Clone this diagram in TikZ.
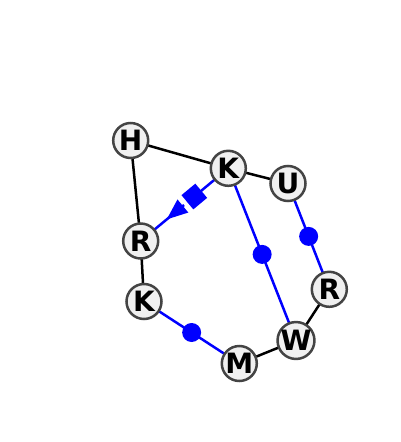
\documentclass[tikz,border=0pt]{standalone}
\usepackage{fontspec}
\setmainfont{DejaVu Sans}
\usetikzlibrary{calc}
\definecolor{nodefill}{HTML}{F0F0F0}
\definecolor{nodeborder}{HTML}{444444}
\tikzset{
  vert/.style={circle, draw=nodeborder, fill=nodefill, line width=2.5pt, minimum size=35pt, inner sep=0pt, font=\fontsize{28}{28}\selectfont\bfseries},
  blk/.style={draw=black, line width=2.5pt},
  blu/.style={draw=blue, line width=2.5pt},
  bdot/.style={circle, fill=blue, minimum size=19pt, inner sep=0pt},
}
\begin{document}
\begin{tikzpicture}[x=1pt, y=-1pt]
\useasboundingbox (0,0) rectangle (400,442);
\coordinate (pH) at (130.7,140.5);
\coordinate (pK1) at (228.3,168.3);
\coordinate (pU) at (288,183.5);
\coordinate (pR1) at (140.7,241);
\coordinate (pK2) at (144,301.5);
\coordinate (pM) at (239.3,363.5);
\coordinate (pW) at (296,340.5);
\coordinate (pR2) at (329.3,289.3);
% edges
\draw[blk] (pH) -- (pK1);
\draw[blk] (pH) -- (pR1);
\draw[blk] (pK1) -- (pU);
\draw[blk] (pR1) -- (pK2);
\draw[blk] (pM) -- (pW);
\draw[blk] (pW) -- (pR2);
\draw[blu] (pK1) -- (pW) node[midway, bdot] (d1) {};
\draw[blu] (pU) -- (pR2) node[midway, bdot] (d2) {};
\draw[blu] (pK2) -- (pM) node[midway, bdot] (d3) {};
% K1 -> R1 with diamond and arrow
\coordinate (g1) at ($(pK1)!53pt!(pR1)$);
\coordinate (g2) at ($(pK1)!57.5pt!(pR1)$);
\draw[blu] (pK1) -- (g1);
\draw[blu] (g2) -- (pR1);
\path (pK1) -- (pR1) node[pos=0.388, sloped, fill=blue, minimum width=18pt, minimum height=18.5pt, inner sep=0pt] (dm) {};
\coordinate (ab) at ($(pK1)!59pt!(pR1)$);
\coordinate (at) at ($(pK1)!80pt!(pR1)$);
\fill[blue] (at) -- ($(ab)!8.5pt!90:(pR1)$) -- ($(ab)!8.5pt!-90:(pR1)$) -- cycle;
% nodes
\node[vert] (H) at (pH) {H};
\node[vert] (K1) at (pK1) {K};
\node[vert] (U) at (pU) {U};
\node[vert] (R1) at (pR1) {R};
\node[vert] (K2) at (pK2) {K};
\node[vert] (M) at (pM) {M};
\node[vert] (W) at (pW) {W};
\node[vert] (R2) at (pR2) {R};
\end{tikzpicture}
\end{document}
